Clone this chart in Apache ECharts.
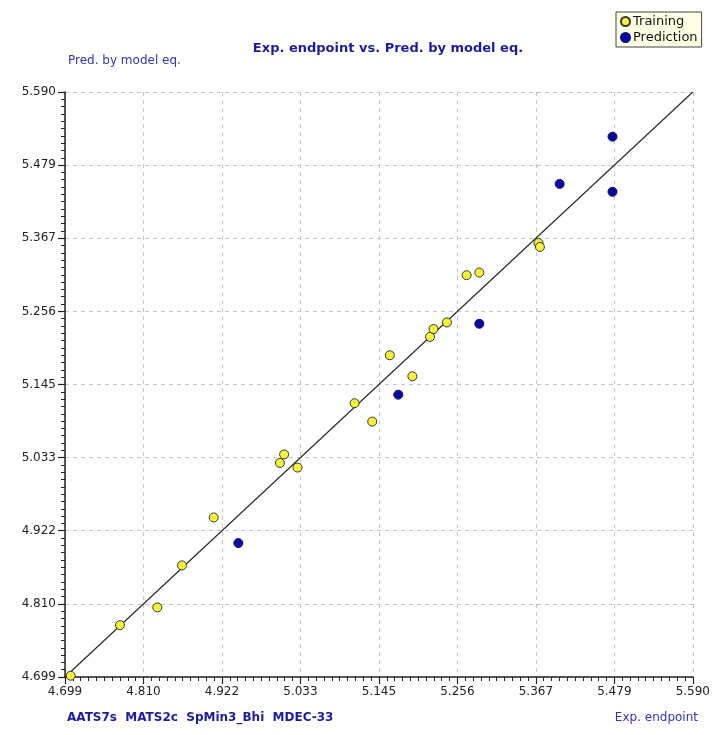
<!DOCTYPE html>
<html>
<head>
<meta charset="utf-8">
<script src="https://cdn.jsdelivr.net/npm/echarts@6/dist/echarts.min.js"></script>
<style>html,body{margin:0;padding:0;background:#fff}#c{width:713px;height:735px}</style>
</head>
<body>
<div id="c"></div>
<script>
// Tick labels (both axes)
const tickLabels = ['4.699','4.810','4.922','5.033','5.145','5.256','5.367','5.479','5.590'];
const axisMin = 4.699;
const axisMax = 5.590;

// Training set: experimental endpoint (x) vs predicted (y)
const trainX = [4.707, 4.777, 4.830, 4.865, 4.910, 5.004, 5.010, 5.029, 5.110, 5.135,
                5.160, 5.192, 5.217, 5.222, 5.241, 5.269, 5.287, 5.371, 5.373, 5.591];
const trainY = [4.701, 4.778, 4.805, 4.869, 4.942, 5.025, 5.038, 5.018, 5.116, 5.088,
                5.189, 5.157, 5.217, 5.229, 5.239, 5.311, 5.315, 5.360, 5.354, 5.565];

// Prediction set
const predX = [4.945, 5.172, 5.287, 5.401, 5.476, 5.476];
const predY = [4.903, 5.129, 5.237, 5.450, 5.522, 5.438];

// Ideal line endpoints
const lineX = [4.699, 5.590];
const lineY = [4.699, 5.590];

const interval = (axisMax - axisMin) / (tickLabels.length - 1);
const fmt = v => {
  const i = Math.round((v - axisMin) / interval);
  return tickLabels[i] !== undefined ? tickLabels[i] : '';
};
const zip = (a, b) => a.map((v, i) => [v, b[i]]);

const FONT = 'DejaVu Sans';
const axisCommon = {
  type: 'value',
  min: axisMin,
  max: axisMax,
  interval: interval,
  axisLine: { show: true, lineStyle: { color: '#222', width: 1.5 } },
  axisTick: { show: true, inside: false, length: 7, lineStyle: { color: '#222', width: 1.2 } },
  minorTick: { show: true, splitNumber: 10, length: 4, lineStyle: { color: '#222', width: 1 } },
  splitLine: { show: true, lineStyle: { color: '#c4c4c4', type: [4, 4], width: 1 } },
  minorSplitLine: { show: false },
  axisLabel: { formatter: fmt, color: '#222', fontFamily: FONT, fontSize: 12, margin: 9 }
};

const chart = echarts.init(document.getElementById('c'));
chart.setOption({
  animation: false,
  backgroundColor: '#fff',
  title: [
    { text: 'Exp. endpoint vs. Pred. by model eq.', left: 383, top: 37, textAlign: 'center',
      textStyle: { color: '#1c1ca0', fontSize: 13, fontWeight: 'bold', fontFamily: FONT } },
    { text: 'Pred. by model eq.', left: 63, top: 50,
      textStyle: { color: '#3434b4', fontSize: 12, fontWeight: 'normal', fontFamily: FONT } },
    { text: 'AATS7s  MATS2c  SpMin3_Bhi  MDEC-33', left: 62, top: 707,
      textStyle: { color: '#1c1ca0', fontSize: 12, fontWeight: 'bold', fontFamily: FONT } },
    { text: 'Exp. endpoint', right: 10, top: 707,
      textStyle: { color: '#3434b4', fontSize: 12, fontWeight: 'normal', fontFamily: FONT } }
  ],
  legend: {
    data: ['Training', 'Prediction'],
    orient: 'vertical',
    left: 616, top: 12,
    backgroundColor: '#ffffe4',
    borderColor: '#444', borderWidth: 1,
    padding: [3, 4, 3, 4],
    itemWidth: 9, itemHeight: 9, itemGap: 3,
    icon: 'circle',
    textStyle: { fontFamily: FONT, fontSize: 13, color: '#111', padding: [0, 0, 0, -2] }
  },
  grid: { left: 65, right: 17, top: 92, bottom: 58, containLabel: false },
  xAxis: axisCommon,
  yAxis: axisCommon,
  series: [
    { name: 'line', type: 'line', data: zip(lineX, lineY), showSymbol: false, silent: true,
      lineStyle: { color: '#2a2a2a', width: 1.2 }, z: 3 },
    { name: 'Training', type: 'scatter', data: zip(trainX, trainY), symbolSize: 9,
      itemStyle: { color: '#f8f43a', borderColor: '#333', borderWidth: 1, opacity: 1 }, z: 5 },
    { name: 'Prediction', type: 'scatter', data: zip(predX, predY), symbolSize: 9,
      itemStyle: { color: '#0a0a96', borderColor: '#0a0a96', borderWidth: 1, opacity: 1 }, z: 5 }
  ]
});
</script>
</body>
</html>
